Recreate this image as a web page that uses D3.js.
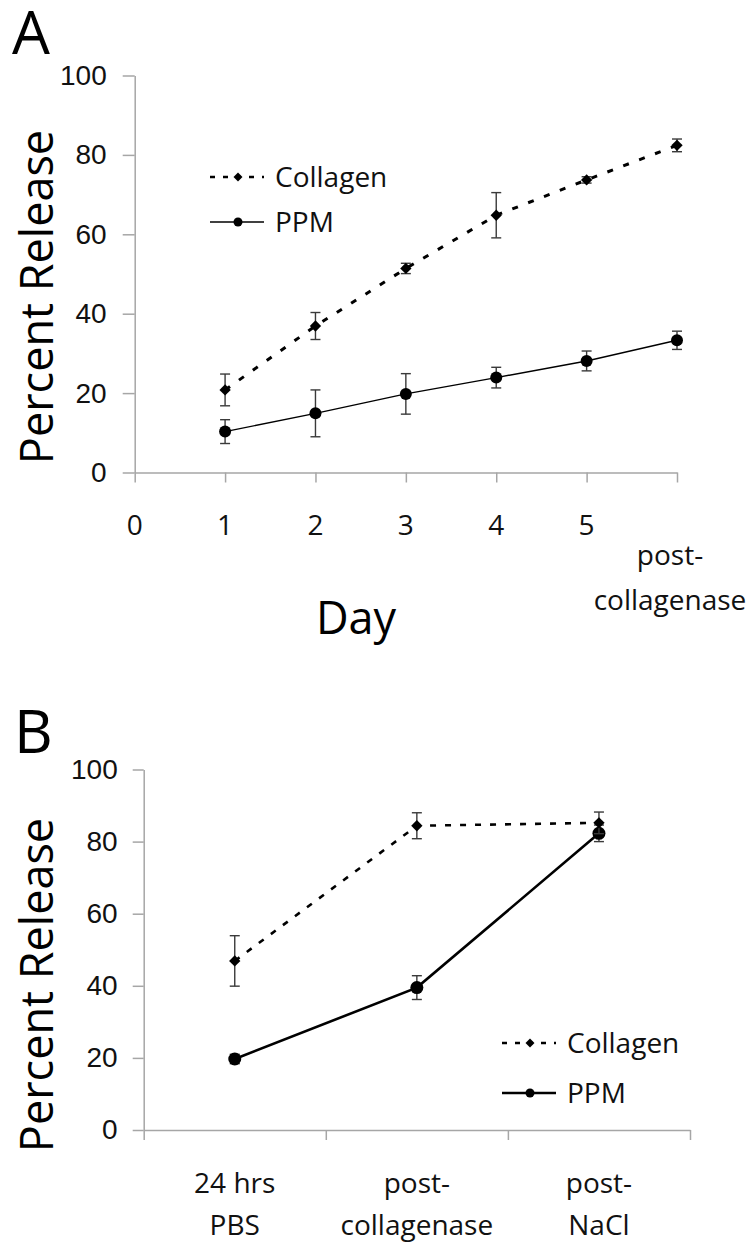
<!DOCTYPE html>
<html>
<head>
<meta charset="utf-8">
<script src="https://cdn.jsdelivr.net/npm/d3@7"></script>
<style>
  body { margin: 0; background: #fff; }
  svg { display: block; font-family: "Open Sans", "Noto Sans", sans-serif; }
</style>
</head>
<body>
<div id="chart"></div>
<script>
// panel A: release over days
var dayTicks = [0, 1, 2, 3, 4, 5, 6];
var dayLabels = ["0", "1", "2", "3", "4", "5", "post-collagenase"];
var dayPoints = [1, 2, 3, 4, 5, 6];
var collagenA = [20.8, 36.9, 51.4, 64.8, 73.7, 82.4];
var collagenAErr = [4.0, 3.4, 1.3, 5.7, 0.8, 1.6];
var ppmA = [10.3, 14.9, 19.8, 23.9, 28.1, 33.3];
var ppmAErr = [3.0, 5.9, 5.1, 2.6, 2.5, 2.3];

// panel B: release after treatments
var stagesB = ["24 hrs PBS", "post-collagenase", "post-NaCl"];
var stageLines = [["24 hrs", "PBS"], ["post-", "collagenase"], ["post-", "NaCl"]];
var collagenB = [46.9, 84.4, 85.2];
var collagenBErr = [7.0, 3.6, 3.0];
var ppmB = [19.7, 39.5, 82.3];
var ppmBErr = [1.3, 3.3, 2.3];

var yTicks = [0, 20, 40, 60, 80, 100];
var seriesNames = ["Collagen", "PPM"];

var svg = d3.select("#chart").append("svg")
    .attr("width", 754)
    .attr("height", 1242);

var axisColor = "#a6a6a6";
var labelSize = "28px";
var titleSize = "45px";

function styleAxis(g) {
    g.select(".domain").attr("stroke", axisColor).attr("stroke-width", 1.5);
    g.selectAll(".tick line").attr("stroke", axisColor).attr("stroke-width", 1.5);
    g.selectAll(".tick text").attr("fill", "#111").style("font-size", labelSize);
}

function diamond(sel, size) {
    sel.attr("d", d3.symbol().type(d3.symbolSquare).size(size)());
}

function drawSeries(g, xs, vals, errs, y, opts) {
    var line = d3.line()
        .x(function(d, i) { return xs[i] })
        .y(function(d) { return y(d) });

    g.append("path")
        .datum(vals)
        .attr("fill", "none")
        .attr("stroke", "#000")
        .attr("stroke-width", opts.width)
        .attr("stroke-dasharray", opts.dash)
        .attr("d", line);

    // error bars
    var eb = g.append("g").attr("stroke", "#3a3a3a").attr("stroke-width", 1.4);
    vals.forEach(function(v, i) {
        var x = xs[i];
        eb.append("line").attr("x1", x).attr("x2", x).attr("y1", y(v + errs[i])).attr("y2", y(v - errs[i]));
        eb.append("line").attr("x1", x - 5).attr("x2", x + 5).attr("y1", y(v + errs[i])).attr("y2", y(v + errs[i]));
        eb.append("line").attr("x1", x - 5).attr("x2", x + 5).attr("y1", y(v - errs[i])).attr("y2", y(v - errs[i]));
    });

    vals.forEach(function(v, i) {
        if (opts.marker === "diamond") {
            g.append("path").call(diamond, 64)
                .attr("transform", "translate(" + xs[i] + "," + y(v) + ") rotate(45)")
                .attr("fill", "#000");
        } else {
            g.append("circle").attr("cx", xs[i]).attr("cy", y(v)).attr("r", opts.r).attr("fill", "#000");
        }
    });
}

function drawLegend(g, x0, y0, rowGap, widths) {
    seriesNames.forEach(function(name, i) {
        var ly = y0 + i * rowGap;
        g.append("line")
            .attr("x1", x0).attr("x2", x0 + 54)
            .attr("y1", ly).attr("y2", ly)
            .attr("stroke", "#000")
            .attr("stroke-width", widths[i])
            .attr("stroke-dasharray", i === 0 ? "5,8" : null);
        if (i === 0) {
            g.append("path").call(diamond, 40)
                .attr("transform", "translate(" + (x0 + 28) + "," + ly + ") rotate(45)")
                .attr("fill", "#000");
        } else {
            g.append("circle").attr("cx", x0 + 28).attr("cy", ly).attr("r", 4.5).attr("fill", "#000");
        }
        g.append("text")
            .attr("x", x0 + 65)
            .attr("y", ly)
            .attr("dy", "0.35em")
            .style("font-size", labelSize)
            .attr("fill", "#111")
            .text(name);
    });
}

// ---------- Panel A ----------
var xA = d3.scaleLinear().domain([0, 6]).range([134.7, 677]);
var yA = d3.scaleLinear().domain([0, 100]).range([472.5, 75.5]);
var gA = svg.append("g");

gA.append("g")
    .attr("transform", "translate(" + xA(0) + ",0)")
    .call(d3.axisLeft(yA).tickValues(yTicks).tickSize(12).tickSizeOuter(0).tickPadding(16))
    .call(styleAxis);

gA.append("g")
    .attr("transform", "translate(0," + yA(0) + ")")
    .call(d3.axisBottom(xA).tickValues(dayTicks).tickSize(10).tickSizeOuter(0).tickFormat(""))
    .call(styleAxis);

dayTicks.forEach(function(t, i) {
    if (i < 6) {
        gA.append("text")
            .attr("x", xA(t)).attr("y", 535)
            .attr("text-anchor", "middle")
            .style("font-size", labelSize).attr("fill", "#111")
            .text(dayLabels[i]);
    } else {
        var parts = ["post-", "collagenase"];
        parts.forEach(function(p, j) {
            gA.append("text")
                .attr("x", xA(t) - 7).attr("y", 565 + j * 45)
                .attr("text-anchor", "middle")
                .style("font-size", labelSize).attr("fill", "#111")
                .text(p);
        });
    }
});

var xsA = dayPoints.map(function(d) { return xA(d) });
drawSeries(gA, xsA, ppmA, ppmAErr, yA, {width: 1.4, dash: null, marker: "circle", r: 6});
drawSeries(gA, xsA, collagenA, collagenAErr, yA, {width: 3, dash: "6,11", marker: "diamond"});

drawLegend(gA, 210, 177, 45, [2.5, 1.4]);

gA.append("text")
    .attr("transform", "translate(53,297) rotate(-90)")
    .attr("text-anchor", "middle")
    .style("font-size", titleSize).attr("fill", "#000")
    .text("Percent Release");

gA.append("text")
    .attr("x", 356).attr("y", 634)
    .attr("text-anchor", "middle")
    .style("font-size", titleSize).attr("fill", "#000")
    .text("Day");

gA.append("text")
    .attr("x", 12).attr("y", 54)
    .style("font-size", "60px").attr("fill", "#000")
    .text("A");

// ---------- Panel B ----------
var xB = d3.scaleBand().domain(stagesB).range([143.7, 690]);
var xBTicks = d3.scaleLinear().domain([0, 3]).range([143.7, 690]);
var yB = d3.scaleLinear().domain([0, 100]).range([1130, 769.5]);
var gB = svg.append("g");

gB.append("g")
    .attr("transform", "translate(" + xBTicks(0) + ",0)")
    .call(d3.axisLeft(yB).tickValues(yTicks).tickSize(11).tickSizeOuter(0).tickPadding(15))
    .call(styleAxis);

gB.append("g")
    .attr("transform", "translate(0," + yB(0) + ")")
    .call(d3.axisBottom(xBTicks).tickValues([0, 1, 2, 3]).tickSize(10).tickSizeOuter(0).tickFormat(""))
    .call(styleAxis);

stagesB.forEach(function(s, i) {
    stageLines[i].forEach(function(p, j) {
        gB.append("text")
            .attr("x", xB(s) + xB.bandwidth() / 2).attr("y", 1193 + j * 42)
            .attr("text-anchor", "middle")
            .style("font-size", labelSize).attr("fill", "#111")
            .text(p);
    });
});

var xsB = stagesB.map(function(s) { return xB(s) + xB.bandwidth() / 2 });
drawSeries(gB, xsB, ppmB, ppmBErr, yB, {width: 2.6, dash: null, marker: "circle", r: 6.5});
drawSeries(gB, xsB, collagenB, collagenBErr, yB, {width: 2.6, dash: "6,9", marker: "diamond"});

drawLegend(gB, 502, 1043, 50, [2.5, 2.6]);

gB.append("text")
    .attr("transform", "translate(53,985) rotate(-90)")
    .attr("text-anchor", "middle")
    .style("font-size", titleSize).attr("fill", "#000")
    .text("Percent Release");

gB.append("text")
    .attr("x", 14).attr("y", 753)
    .style("font-size", "60px").attr("fill", "#000")
    .text("B");
</script>
</body>
</html>
